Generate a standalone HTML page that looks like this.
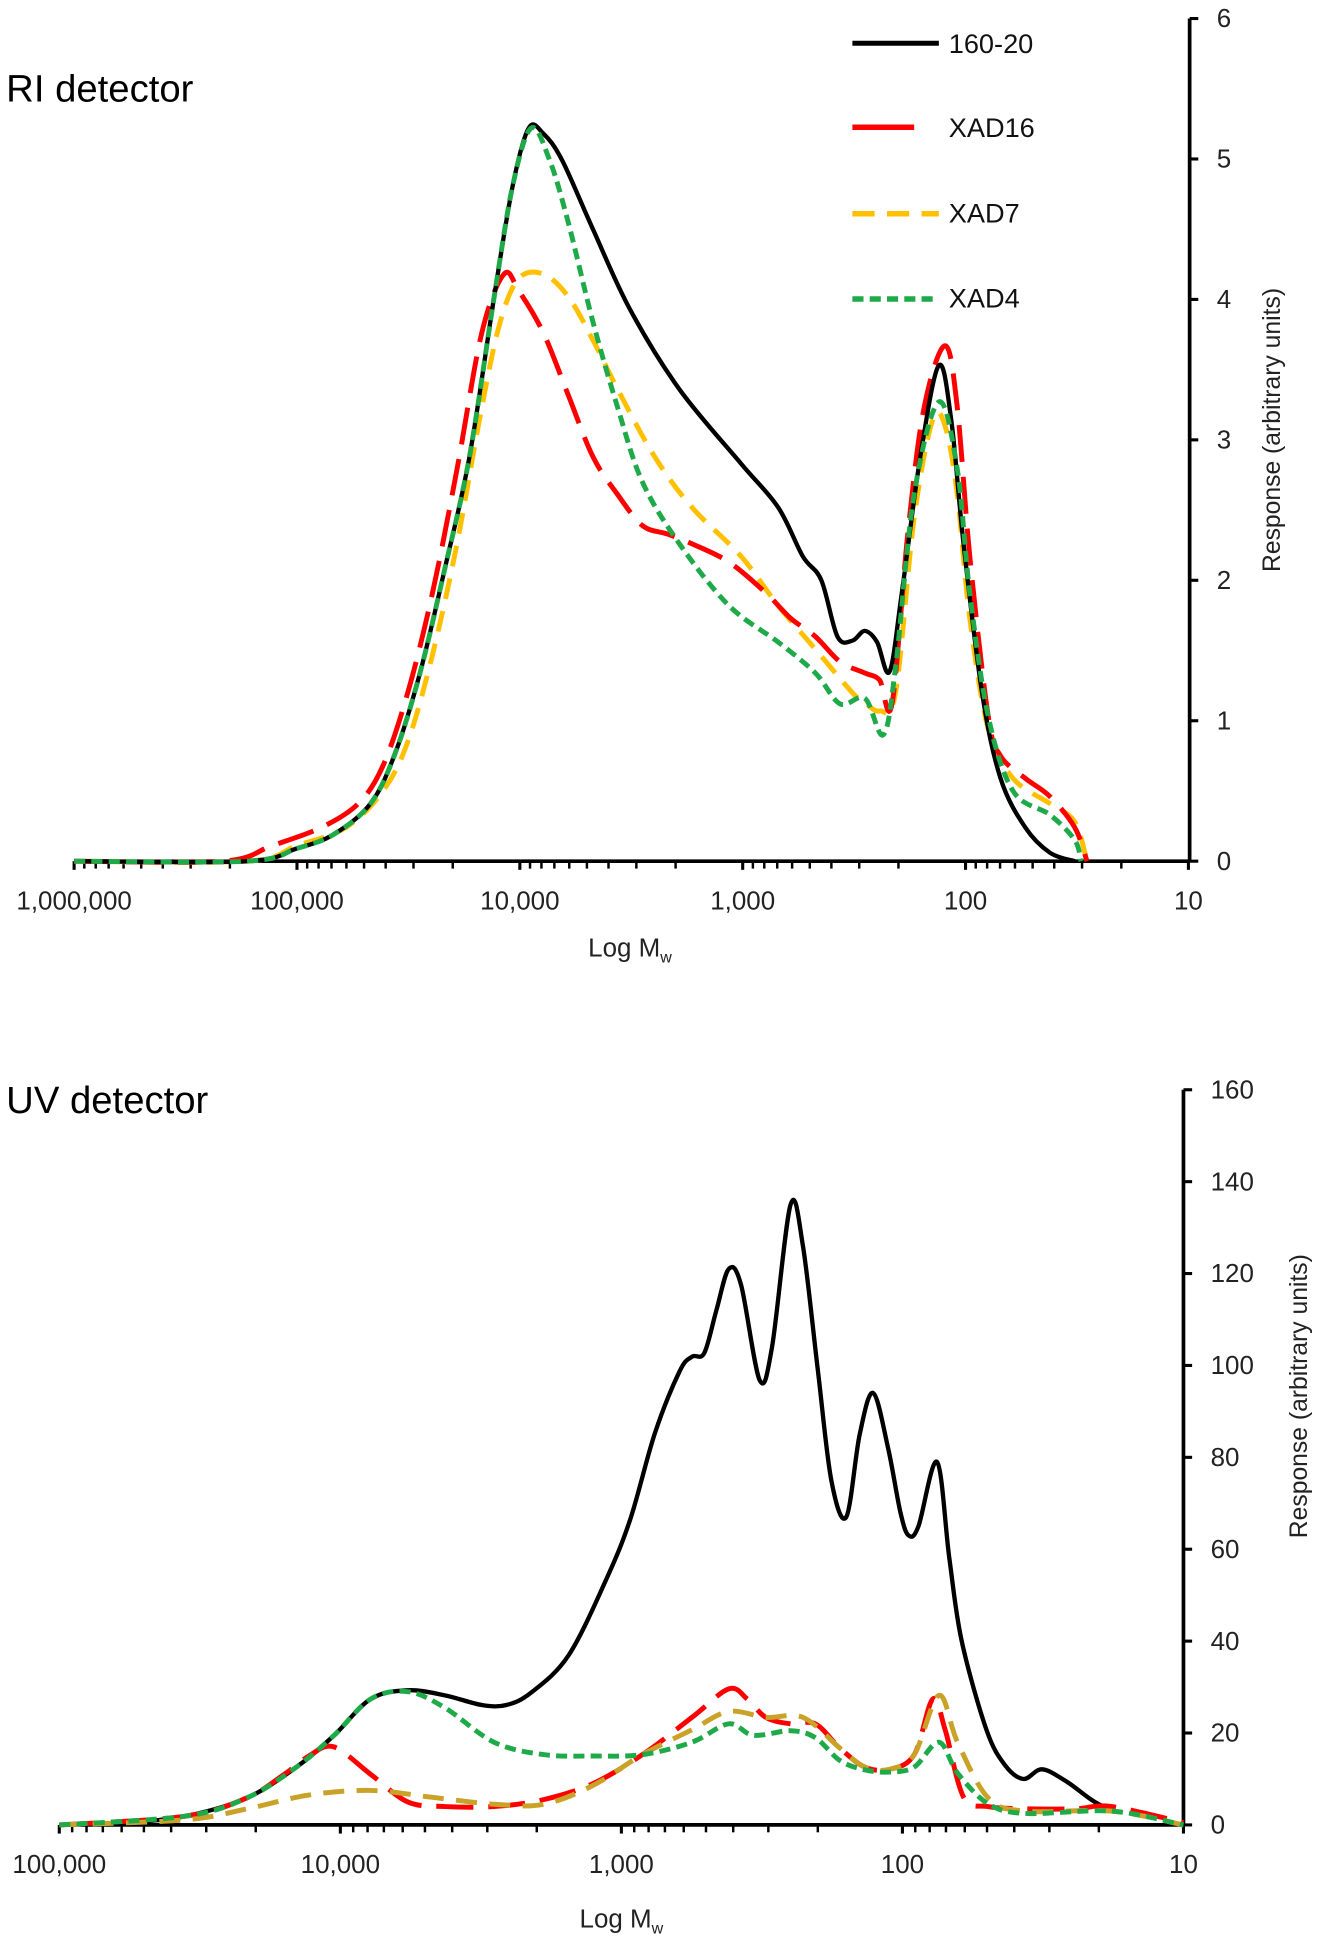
<!DOCTYPE html>
<html><head><meta charset="utf-8">
<style>
html,body{margin:0;padding:0;background:#fff;}
svg{display:block;font-family:"Liberation Sans",Arial,sans-serif;}
</style></head>
<body>
<svg id="fig" width="1328" height="1946" viewBox="0 0 1075 1575" preserveAspectRatio="none" xmlns="http://www.w3.org/2000/svg">
  <text x="5" y="82" font-size="31" fill="#000">RI detector</text>
  <text x="5" y="901" font-size="31" fill="#000">UV detector</text>
  <g id="top"></g>
  <g id="bot"></g>
  <text transform="translate(1036,348) rotate(-90)" text-anchor="middle" font-size="20" fill="#222">Response  (arbitrary  units)</text>
  <text transform="translate(1058,1130) rotate(-90)" text-anchor="middle" font-size="20" fill="#222">Response  (arbitrary  units)</text>
  <text x="510" y="774" text-anchor="middle" font-size="21" fill="#222">Log M<tspan font-size="13" dy="5">w</tspan></text>
  <text x="503" y="1560" text-anchor="middle" font-size="21" fill="#222">Log M<tspan font-size="13" dy="5">w</tspan></text>
  <g>
    <line x1="690" y1="35" x2="760" y2="35" stroke="#000" stroke-width="4"/>
    <text x="768" y="43" font-size="22" fill="#111">160-20</text>
    <line x1="690" y1="103" x2="740" y2="103" stroke="#f00" stroke-width="4.5"/>
    <text x="768" y="111" font-size="22" fill="#111">XAD16</text>
    <line x1="690" y1="173" x2="760" y2="173" stroke="#ffc000" stroke-width="4.5" stroke-dasharray="18,10"/>
    <text x="768" y="180" font-size="22" fill="#111">XAD7</text>
    <line x1="690" y1="242" x2="760" y2="242" stroke="#1faa4a" stroke-width="4.5" stroke-dasharray="9,5"/>
    <text x="768" y="249" font-size="22" fill="#111">XAD4</text>
  </g>
</svg>
<script>
// ---------- RI chart data (x = log10 Mw, y = response) ----------
const riYTicks = [0,1,2,3,4,5,6];
const riXTickLabels = ["1,000,000","100,000","10,000","1,000","100","10"];
const riXTickLogs = [6,5,4,3,2,1];
const riBlackX = [6,5.224,5.002,4.836,4.670,4.559,4.448,4.337,4.226,4.115,4.032,3.960,3.894,3.810,3.672,3.506,3.284,3.007,2.841,2.730,2.647,2.575,2.508,2.452,2.397,2.341,2.286,2.203,2.120,2.064,2.009,1.926,1.843,1.732,1.621,1.510];
const riBlackY = [0,0,0.09,0.19,0.41,0.77,1.34,2.08,2.88,4.02,4.81,5.22,5.18,4.99,4.50,3.93,3.36,2.83,2.52,2.17,2.00,1.60,1.57,1.64,1.56,1.35,1.91,2.88,3.53,3.14,2.26,1.20,0.59,0.24,0.06,0];
const riRedX = [6,5.335,5.113,4.891,4.725,4.614,4.503,4.392,4.282,4.171,4.071,4.004,3.894,3.783,3.672,3.561,3.450,3.339,3.228,3.062,2.896,2.785,2.674,2.563,2.452,2.386,2.330,2.258,2.186,2.092,2.037,1.981,1.898,1.843,1.732,1.621,1.510,1.455];
const riRedY = [0,0,0.11,0.24,0.41,0.68,1.20,1.91,2.79,3.76,4.18,4.06,3.76,3.32,2.88,2.61,2.39,2.33,2.26,2.13,1.91,1.73,1.60,1.42,1.34,1.29,1.12,2.35,3.23,3.67,3.23,2.17,1.03,0.75,0.59,0.46,0.24,0];
const riYelX = [6,5.224,5.002,4.781,4.614,4.503,4.392,4.282,4.171,4.088,4.004,3.894,3.783,3.672,3.561,3.395,3.228,3.007,2.841,2.674,2.508,2.452,2.386,2.314,2.231,2.148,2.092,2.037,1.981,1.898,1.787,1.621,1.510,1.455];
const riYelY = [0,0,0.11,0.24,0.50,0.85,1.47,2.26,3.23,3.84,4.15,4.18,4.02,3.71,3.36,2.88,2.52,2.17,1.82,1.51,1.20,1.13,1.07,1.20,2.44,3.14,3.10,2.61,1.73,0.94,0.59,0.41,0.28,0];
const riGrnX = [6,5.224,5.002,4.836,4.670,4.559,4.448,4.337,4.226,4.115,4.032,3.949,3.866,3.783,3.672,3.561,3.450,3.284,3.062,2.841,2.674,2.563,2.452,2.369,2.314,2.231,2.120,2.037,1.981,1.898,1.787,1.621,1.510,1.482];
const riGrnY = [0,0,0.09,0.19,0.41,0.77,1.34,2.08,2.88,4.02,4.81,5.22,4.99,4.55,3.84,3.23,2.70,2.26,1.82,1.56,1.34,1.12,1.16,0.90,1.38,2.61,3.27,2.79,1.91,1.03,0.50,0.33,0.15,0];

// ---------- UV chart data ----------
const uvYTicks = [0,20,40,60,80,100,120,140,160];
const uvXTickLabels = ["100,000","10,000","1,000","100","10"];
const uvXTickLogs = [5,4,3,2,1];
const uvBlackX = [5,4.771,4.552,4.332,4.156,4.024,3.892,3.760,3.628,3.497,3.409,3.321,3.189,3.057,2.969,2.881,2.793,2.749,2.705,2.662,2.618,2.574,2.508,2.464,2.398,2.354,2.301,2.253,2.200,2.152,2.104,2.051,2.007,1.978,1.943,1.877,1.833,1.789,1.701,1.635,1.569,1.503,1.415,1.284,1.117,1];
const uvBlackY = [0,0.5,1.9,5.9,12.6,19.4,27.4,29.3,28.2,26.1,26.1,28.8,36.8,53,66.4,85.2,98.7,101.9,102.7,112,121,117.5,96.8,104,135,126,99,75,67,85,94,82,68,63,65,79,58,40,20.7,13,10,12.1,9.4,4,1.9];
const uvRedX = [5,4.552,4.332,4.200,4.112,4.024,3.892,3.760,3.628,3.453,3.277,3.101,2.925,2.749,2.618,2.552,2.486,2.398,2.310,2.222,2.134,2.046,1.958,1.892,1.848,1.782,1.695,1.563,1.387,1.255,1];
const uvRedY = [0,1.9,5.9,11,15,17,11,5,4,4,5.5,9,15.3,23.4,29.6,27.4,23.4,22,22,16.7,12.6,12.1,15.3,27.4,20.7,6,4,3.5,3.5,4,0.5];
const uvYelX = [5,4.552,4.332,4.112,3.892,3.672,3.453,3.277,3.101,2.925,2.749,2.618,2.486,2.354,2.222,2.134,2.046,1.958,1.870,1.804,1.695,1.563,1.255,1];
const uvYelY = [0,1.1,3.5,6.5,7.5,6,4.5,4.5,8.6,15.3,20.7,24.7,23.4,23.4,16.7,12.6,12.1,15.3,28.2,18,5.9,3,3,0];
const uvGrnX = [5,4.552,4.332,4.156,4.024,3.892,3.760,3.628,3.453,3.277,3.101,2.925,2.749,2.618,2.530,2.398,2.310,2.222,2.134,2.046,1.958,1.870,1.804,1.695,1.563,1.255,1];
const uvGrnY = [0,1.9,5.9,12.6,19.4,27.4,29,25.5,18,15.3,15,15.3,18,22,19.5,20.5,19,14,12,11.5,12.6,18,11.3,4.6,2.5,3,0];

const NS = "http://www.w3.org/2000/svg";
function mk(tag, attrs, parent){ const e=document.createElementNS(NS,tag); for(const k in attrs) e.setAttribute(k,attrs[k]); parent.appendChild(e); return e; }

function smoothPath(pts){
  let d="M"+pts[0][0].toFixed(2)+","+pts[0][1].toFixed(2);
  for(let i=0;i<pts.length-1;i++){
    const p0=pts[Math.max(0,i-1)],p1=pts[i],p2=pts[i+1],p3=pts[Math.min(pts.length-1,i+2)];
    const c1=[p1[0]+(p2[0]-p0[0])/6,p1[1]+(p2[1]-p0[1])/6];
    const c2=[p2[0]-(p3[0]-p1[0])/6,p2[1]-(p3[1]-p1[1])/6];
    d+="C"+c1[0].toFixed(2)+","+c1[1].toFixed(2)+" "+c2[0].toFixed(2)+","+c2[1].toFixed(2)+" "+p2[0].toFixed(2)+","+p2[1].toFixed(2);
  }
  return d;
}

function chart(g, cfg){
  const xs = L => cfg.x0 + (cfg.lmax - L) * cfg.dec;
  const ys = v => cfg.y0 - v / cfg.vmax * (cfg.y0 - cfg.y1);
  const xa = mk("line",{x1:xs(cfg.lmax),y1:cfg.y0,x2:cfg.ax,y2:cfg.y0,stroke:"#000","stroke-width":3},g);
  
  
  for(let L=cfg.lmax; L>cfg.lmin-0.001; L--){
    const mt = mk("line",{x1:xs(L),y1:cfg.y0,x2:xs(L),y2:cfg.y0+7,stroke:"#000","stroke-width":2.5},g);
    
    
    if(L>cfg.lmin){
      for(let m=2;m<=9;m++){
        const lx = L-1+Math.log10(m);
        const t = mk("line",{x1:xs(lx),y1:cfg.y0,x2:xs(lx),y2:cfg.y0+6,stroke:"#000","stroke-width":2},g);
        
        
      }
    }
  }
  cfg.xLogs.forEach((L,i)=>{
    const t = mk("text",{x:xs(L),y:cfg.y0+39,"text-anchor":"middle","font-size":21,fill:"#222"},g);
    t.textContent = cfg.xLabels[i];
    
    
  });
  const ya = mk("line",{x1:cfg.ax,y1:cfg.y1,x2:cfg.ax,y2:cfg.y0,stroke:"#000","stroke-width":3},g);
  
  
  cfg.yTicks.forEach(v=>{
    const tk = mk("line",{x1:cfg.ax,y1:ys(v),x2:cfg.ax+7,y2:ys(v),stroke:"#000","stroke-width":2.5},g);
    
    
    const t = mk("text",{x:cfg.ax+22,y:ys(v)+7,"font-size":21,fill:"#222"},g);
    t.textContent = String(v);
    
    
  });
  cfg.series.forEach(s=>{
    const pts = s.x.map((L,i)=>[xs(L), ys(s.y[i])]);
    const p = mk("path",{d:smoothPath(pts),fill:"none",stroke:s.color,"stroke-width":s.w,"stroke-dasharray":s.dash,"stroke-linejoin":"round"},g);
    
    
  });
}

chart(document.getElementById("top"),{
  x0:60, dec:180.4, lmax:6, lmin:1, ax:963, y0:697, y1:15, vmax:6,
  yTicks:riYTicks, xLogs:riXTickLogs, xLabels:riXTickLabels,
  series:[
    {x:riYelX,y:riYelY,color:"#ffc000",w:4,dash:"17,10",name:"ri-series-xad7"},
    {x:riRedX,y:riRedY,color:"#ff0000",w:4,dash:"30,12",name:"ri-series-xad16"},
    {x:riBlackX,y:riBlackY,color:"#000",w:3.5,dash:"none",name:"ri-series-160-20"},
    {x:riGrnX,y:riGrnY,color:"#1faa4a",w:4,dash:"9,5",name:"ri-series-xad4"}
  ]
});
chart(document.getElementById("bot"),{
  x0:48, dec:227.5, lmax:5, lmin:1, ax:958, y0:1477, y1:882, vmax:160,
  yTicks:uvYTicks, xLogs:uvXTickLogs, xLabels:uvXTickLabels,
  series:[
    {x:uvBlackX,y:uvBlackY,color:"#000",w:3.5,dash:"none",name:"uv-series-160-20"},
    {x:uvRedX,y:uvRedY,color:"#ff0000",w:4,dash:"30,12",name:"uv-series-xad16"},
    {x:uvYelX,y:uvYelY,color:"#c9a227",w:4,dash:"17,10",name:"uv-series-xad7"},
    {x:uvGrnX,y:uvGrnY,color:"#1faa4a",w:4,dash:"9,5",name:"uv-series-xad4"}
  ]
});
</script>
</body></html>
